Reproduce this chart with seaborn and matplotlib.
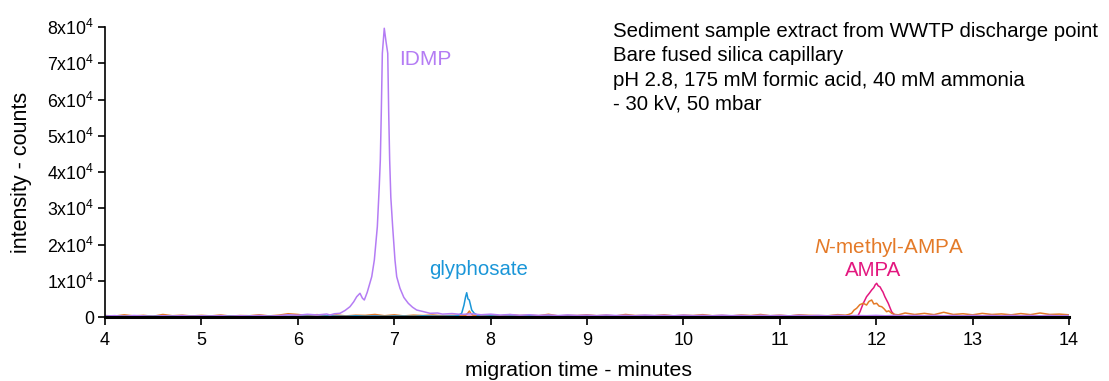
import numpy as np
import pandas as pd
import matplotlib
matplotlib.use("Agg")
import matplotlib.pyplot as plt
import seaborn as sns

# ---------------- data ----------------
# common sampling grid for the baseline readings (minutes)
grid = np.round(np.arange(4.0, 14.0001, 0.1), 2)

idmp_base = [250, 380, 200, 420, 300, 180, 350, 260, 410, 230,
             330, 270, 390, 210, 350, 290, 440, 250, 380, 620,
             480, 750, 560, 820, 900, 900, 900, 900, 900, 900,
             900, 900, 900, 900, 900, 800, 950, 700, 900, 620,
             780, 540, 690, 480, 620, 450, 580, 400, 560, 430,
             520, 380, 540, 410, 480, 360, 520, 400, 470, 350,
             500, 380, 460, 340, 490, 370, 450, 330, 480, 360,
             440, 320, 470, 350, 430, 310, 460, 340, 420, 360,
             450, 330, 470, 350, 440, 320, 460, 340, 430, 310,
             450, 330, 440, 320, 460, 340, 430, 310, 450, 330, 400]
idmp_peak_t = [6.334, 6.38, 6.438, 6.49, 6.541, 6.58, 6.611, 6.645, 6.67, 6.69,
               6.72, 6.767, 6.794, 6.825, 6.845, 6.856, 6.866, 6.877, 6.897, 6.915,
               6.933, 6.943, 6.953, 6.965, 6.984, 7.008, 7.026, 7.06, 7.10, 7.146,
               7.19, 7.233, 7.30, 7.371, 7.45]
idmp_peak_v = [550, 900, 1020, 1800, 2840, 4200, 5600, 6540, 5200, 4690,
               6800, 11120, 15730, 24910, 36000, 43300, 56280, 72750, 79650, 76000,
               72750, 56280, 43300, 33000, 24910, 15730, 11120, 7920, 5400, 3780,
               2700, 1930, 1500, 1020, 1100]

glyph_base = [200, 320, 150, 280, 240, 180, 350, 210, 300, 160,
              260, 190, 330, 220, 170, 290, 240, 200, 310, 180,
              270, 220, 160, 300, 250, 190, 330, 210, 280, 170,
              260, 230, 180, 320, 240, 200, 290, 220, 260, 190,
              300, 170, 250, 220, 330, 180, 270, 210, 240, 160,
              290, 200, 250, 180, 310, 220, 170, 280, 230, 190,
              260, 210, 300, 170, 240, 220, 280, 190, 250, 160,
              300, 210, 260, 180, 230, 290, 200, 250, 170, 280,
              220, 190, 310, 240, 180, 260, 210, 290, 170, 250,
              230, 200, 280, 190, 260, 220, 170, 300, 240, 200, 250]
glyph_peak_t = [7.62, 7.66, 7.70, 7.724, 7.74, 7.752, 7.765, 7.779, 7.79, 7.804, 7.83, 7.87]
glyph_peak_v = [250, 400, 1020, 3310, 5500, 6700, 5000, 4690, 3500, 1930, 1020, 400]

nmampa_base = [400, 250, 600, 300, 450, 200, 700, 350, 500, 280,
               450, 300, 550, 250, 400, 350, 600, 300, 500, 900,
               700, 400, 650, 350, 550, 300, 500, 450, 700, 350,
               600, 300, 500, 400, 550, 350, 450, 500, 400, 350,
               550, 300, 650, 400, 500, 350, 750, 300, 450, 400,
               600, 350, 500, 300, 700, 400, 450, 350, 600, 300,
               500, 400, 650, 350, 450, 300, 550, 400, 700, 350,
               500, 300, 600, 450, 400, 350, 650, 500, 600, 500,
               600, 500, 600, 1100, 700, 1000, 650, 1300, 700, 900,
               600, 1000, 700, 850, 600, 950, 650, 1100, 700, 800, 600]
nmampa_peak1_t = [7.74, 7.765, 7.78, 7.795, 7.82]
nmampa_peak1_v = [450, 1100, 1650, 1000, 450]
nmampa_peak2_t = [11.68, 11.71, 11.745, 11.77, 11.797, 11.83, 11.866, 11.90, 11.925,
                  11.953, 11.975, 12.005, 12.03, 12.057, 12.08, 12.108, 12.13, 12.16, 12.195, 12.23]
nmampa_peak2_v = [500, 650, 1020, 1900, 2400, 3400, 3780, 3300, 4300,
                  4690, 3600, 3780, 3000, 2840, 2300, 1460, 1700, 1020, 700, 600]

ampa_base = [150, 250, 120, 200, 180, 100, 230, 160, 210, 130,
             190, 140, 240, 170, 120, 220, 180, 150, 230, 130,
             200, 160, 110, 220, 170, 140, 250, 150, 200, 120,
             180, 160, 130, 230, 170, 140, 210, 160, 190, 130,
             220, 120, 180, 160, 240, 130, 190, 150, 170, 110,
             210, 140, 180, 130, 230, 160, 120, 200, 170, 140,
             190, 150, 220, 120, 170, 160, 200, 140, 180, 110,
             220, 150, 190, 130, 170, 210, 140, 180, 120, 200,
             160, 140, 230, 170, 130, 190, 150, 210, 120, 180,
             170, 140, 200, 130, 190, 160, 120, 220, 170, 140, 180]
ampa_peak_t = [11.78, 11.81, 11.832, 11.866, 11.90, 11.93, 11.953, 11.975, 11.99,
               12.005, 12.02, 12.04, 12.057, 12.07, 12.09, 12.125, 12.16, 12.195, 12.23]
ampa_peak_v = [200, 300, 1460, 3780, 5600, 6600, 7450, 8100, 8900,
               9300, 8600, 8300, 7450, 6900, 5600, 3780, 1460, 400, 250]

analytes = ["AMPA", "N-methyl-AMPA", "glyphosate", "IDMP"]
colors = ["#e3177f", "#e47a28", "#1a96d8", "#b47cf4"]

annotation_lines = ["Sediment sample extract from WWTP discharge point",
                    "Bare fused silica capillary",
                    "pH 2.8, 175 mM formic acid, 40 mM ammonia",
                    "- 30 kV, 50 mbar"]
y_ticks = [0, 10000, 20000, 30000, 40000, 50000, 60000, 70000, 80000]
y_ticklabels = ["0"] + [r"$\mathregular{%dx10^4}$" % k for k in range(1, 9)]
x_ticks = list(range(4, 15))


# ---------------- assemble long-form table ----------------
def combine(base, segments):
    keep_t, keep_v = [], []
    for ti, vi in zip(grid, base):
        if any(min(st) <= ti <= max(st) for st, _ in segments):
            continue
        keep_t.append(ti)
        keep_v.append(vi)
    for st, sv in segments:
        keep_t += list(st)
        keep_v += list(sv)
    order = np.argsort(keep_t)
    return np.array(keep_t)[order], np.array(keep_v)[order]


traces = {
    "AMPA": combine(ampa_base, [(ampa_peak_t, ampa_peak_v)]),
    "N-methyl-AMPA": combine(nmampa_base, [(nmampa_peak1_t, nmampa_peak1_v),
                                          (nmampa_peak2_t, nmampa_peak2_v)]),
    "glyphosate": combine(glyph_base, [(glyph_peak_t, glyph_peak_v)]),
    "IDMP": combine(idmp_base, [(idmp_peak_t, idmp_peak_v)]),
}
frames = []
for name in analytes:
    t, v = traces[name]
    frames.append(pd.DataFrame({"time": t, "intensity": v, "analyte": name}))
df = pd.concat(frames, ignore_index=True)

# ---------------- plotting ----------------
sns.set_theme(style="ticks")
plt.rcParams["font.family"] = ["Liberation Sans", "DejaVu Sans"]
plt.rcParams["mathtext.fontset"] = "custom"
plt.rcParams["mathtext.rm"] = "Liberation Sans"
plt.rcParams["mathtext.it"] = "Liberation Sans:italic"
plt.rcParams["text.color"] = "black"
plt.rcParams["axes.labelcolor"] = "black"

fig = plt.figure(figsize=(11.09, 3.81), dpi=100)
ax = fig.add_axes([105 / 1109, 64 / 381, 964 / 1109, 290 / 381])

sns.lineplot(data=df, x="time", y="intensity", hue="analyte",
             hue_order=analytes, palette=colors, estimator=None,
             sort=True, linewidth=1.1, legend=False, ax=ax)

ax.set_xlim(4, 14)
ax.set_ylim(0, 80000)
ax.set_xticks(x_ticks)
ax.set_xticklabels([str(x) for x in x_ticks])
ax.set_yticks(y_ticks)
ax.set_yticklabels(y_ticklabels)
ax.tick_params(axis="both", direction="out", length=5, width=1.2,
               labelsize=12.8, colors="black", pad=3)
ax.tick_params(axis="x", length=6, pad=5, labelsize=13)
sns.despine(ax=ax)
ax.spines["left"].set_linewidth(1.2)
ax.spines["bottom"].set_linewidth(2.2)
ax.spines["left"].set_color("black")
ax.spines["bottom"].set_color("black")

ax.set_xlabel("migration time - minutes", fontsize=15.3, color="black")
ax.set_ylabel("intensity - counts", fontsize=15.5, color="black")
ax.xaxis.set_label_coords(0.491, -0.15)
ax.yaxis.set_label_coords(-0.076, 0.5)

# peak labels
ax.text(7.05, 70900, "IDMP", color=colors[3], fontsize=15, va="center", ha="left")
ax.text(7.87, 13240, "glyphosate", color=colors[2], fontsize=14.7, va="center", ha="center")
ax.text(12.13, 19300, r"$\mathit{N}$-methyl-AMPA", color=colors[1], fontsize=14.9,
        va="center", ha="center")
ax.text(11.97, 12900, "AMPA", color=colors[0], fontsize=14.8, va="center", ha="center")

fig.text(613 / 1109, 1 - 22 / 381, "\n".join(annotation_lines), fontsize=14.7,
         ha="left", va="top", linespacing=1.35, color="black")

fig.savefig("out.png", dpi=100)
